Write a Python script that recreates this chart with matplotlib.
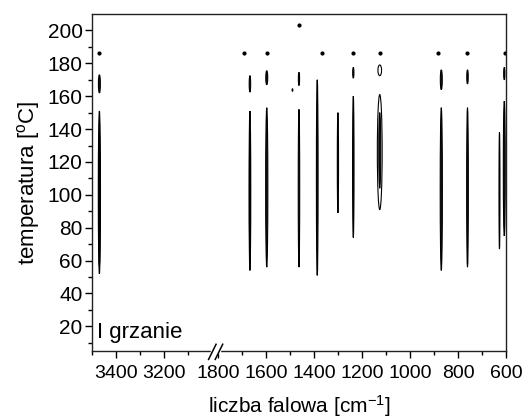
import numpy as np
import matplotlib
matplotlib.use("Agg")
import matplotlib.pyplot as plt
from matplotlib.patches import Ellipse
from matplotlib.ticker import FixedLocator, FixedFormatter

plt.rcParams['font.family'] = ['Liberation Sans', 'DejaVu Sans']
plt.rcParams['mathtext.fontset'] = 'custom'
plt.rcParams['mathtext.rm'] = 'Liberation Sans'
plt.rcParams['mathtext.it'] = 'Liberation Sans'

# ---- data: contour islands (wavenumber, T low, T high, width in cm-1) ----
ell_wn  = [3468, 3468, 3468, 1667, 1667, 1667, 1597, 1597, 1463, 1463, 1490,
           1387, 1301, 1237, 1237, 1127, 1127, 1127, 871, 871, 762, 762, 629, 609, 609]
ell_tlo = [52, 57, 162, 54, 58, 162.5, 56, 167, 56, 166.5, 163,
           51, 89, 74, 171, 91, 104, 172.5, 54, 164, 56, 167.5, 67, 75, 170]
ell_thi = [151, 137, 173, 151, 138, 172.5, 153, 175.5, 152, 174.5, 164.5,
           170, 150, 160, 177.5, 161, 150, 179, 153, 176, 153, 176, 138, 157, 177.5]
ell_w   = [9, 5, 8, 7, 4, 6, 9, 8, 6, 5, 3,
           7, 5, 6, 5, 20, 8, 15, 9, 8, 7, 6, 4, 8, 5]

dot_wn = [3468, 1691, 1597, 1463, 1367, 1237, 1127, 885, 762, 606]
dot_t  = [186, 186, 186, 203.5, 186, 186, 186, 186, 186, 186]

x_major = [3400, 3200, 1800, 1600, 1400, 1200, 1000, 800, 600]
x_minor = [3500, 3300, 3100, 1700, 1500, 1300, 1100, 900, 700]
y_major = [20, 40, 60, 80, 100, 120, 140, 160, 180, 200]
y_minor = [10, 30, 50, 70, 90, 110, 130, 150, 170, 190]

GAP_HI, GAP_LO, K = 3000.0, 1825.0, 1e-4


def fwd(x):
    x = np.asarray(x, dtype=float)
    mid = GAP_LO + (x - GAP_LO) * K
    hi = GAP_LO + (GAP_HI - GAP_LO) * K + (x - GAP_HI)
    return np.where(x <= GAP_LO, x, np.where(x >= GAP_HI, hi, mid))


def inv(y):
    y = np.asarray(y, dtype=float)
    top = GAP_LO + (GAP_HI - GAP_LO) * K
    mid = GAP_LO + (y - GAP_LO) / K
    hi = y - top + GAP_HI
    return np.where(y <= GAP_LO, y, np.where(y >= top, hi, mid))


fig = plt.figure(figsize=(5.27, 4.19), dpi=100)
ax = fig.add_axes([0.174, 0.1623, 0.787, 0.8043])
ax.set_xscale('function', functions=(fwd, inv))
ax.set_xlim(3500, 600)
ax.set_ylim(5, 210)

for wn, lo, hi, w in zip(ell_wn, ell_tlo, ell_thi, ell_w):
    hollow = w >= 12
    e = Ellipse((wn, (lo + hi) / 2), w, hi - lo,
                facecolor='none' if hollow else '#111111',
                edgecolor='black', linewidth=0.8)
    ax.add_patch(e)

ax.plot(dot_wn, dot_t, 'o', color='black', ms=3.0, mew=0, linestyle='none')

ax.xaxis.set_major_locator(FixedLocator(x_major))
ax.xaxis.set_major_formatter(FixedFormatter([str(v) for v in x_major]))
ax.xaxis.set_minor_locator(FixedLocator(x_minor))
ax.xaxis.set_minor_formatter(FixedFormatter([''] * len(x_minor)))
ax.yaxis.set_major_locator(FixedLocator(y_major))
ax.yaxis.set_minor_locator(FixedLocator(y_minor))

ax.tick_params(axis='both', which='major', direction='out', length=5, width=1,
               colors='black')
ax.tick_params(axis='x', which='major', labelsize=14, pad=5)
ax.tick_params(axis='y', which='major', labelsize=15, pad=1.5)
ax.tick_params(axis='both', which='minor', direction='out', length=3, width=1)
ax.tick_params(top=False, right=False)
for s in ax.spines.values():
    s.set_linewidth(1.0)
    s.set_color('#222222')

ax.set_xlabel(r'liczba falowa [cm$^{\mathrm{-1}}$]', fontsize=15, labelpad=8)
ax.set_ylabel(r'temperatura [$^{\mathrm{o}}$C]', fontsize=16, labelpad=4)

ax.text(0.012, 0.04, 'I grzanie', transform=ax.transAxes, fontsize=16,
        ha='left', va='baseline')

# axis break marks at the compressed gap
span = fwd(3500) - fwd(600)
fb = float((fwd(3500) - fwd(GAP_HI)) / span)
sw = 0.016
ax.fill([fb - 0.002, fb + sw + 0.004, fb + sw + 0.004, fb - 0.002],
        [-0.006, -0.006, 0.006, 0.006], transform=ax.transAxes,
        color='white', clip_on=False, zorder=5)
for off in (0.0, sw):
    ax.plot([fb - 0.008 + off, fb + 0.010 + off], [-0.025, 0.020],
            transform=ax.transAxes, color='black', lw=1.1, clip_on=False, zorder=6)

fig.savefig('out.png', dpi=100)
